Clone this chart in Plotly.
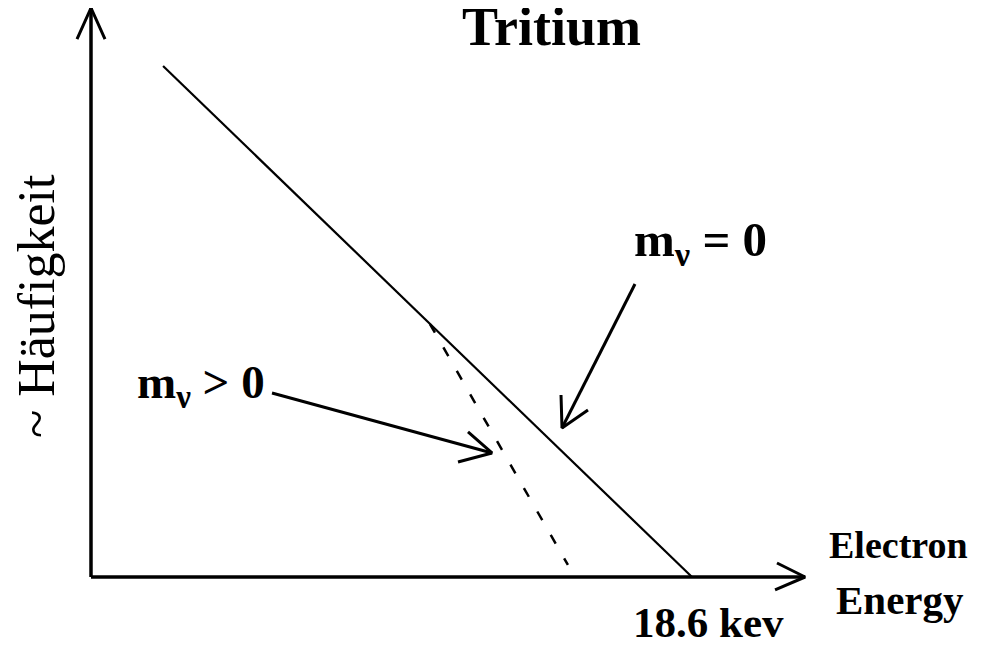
import plotly.graph_objects as go

# ---- data (schematic tritium beta spectrum end region) ----
energy_mv0 = [2.23, 18.6]          # keV, massless neutrino spectrum
counts_mv0 = [1.0, 0.0]            # relative abundance
energy_mv_pos = [10.49, 14.76]     # keV, massive neutrino spectrum (dashed)
counts_mv_pos = [0.495, 0.0235]
endpoint_label = "18.6 kev"

# axis extents (data units)
x_axis_end = 22.10
y_axis_end = 1.1135

# pointer arrows (data units): tail -> tip, plus head arms
ptr0_x = [16.836, 14.577]; ptr0_y = [0.5734, 0.2916]
ptr0_head_x = [14.546, 14.577, 15.381]; ptr0_head_y = [0.3562, 0.2916, 0.3268]
ptr1_x = [5.602, 12.410]; ptr1_y = [0.3601, 0.2427]
ptr1_head_x = [11.668, 12.410, 11.358]; ptr1_head_y = [0.2838, 0.2427, 0.2250]
yhead_x = [-0.433, 0.0, 0.433]; yhead_y = [1.0528, 1.1135, 1.0528]
xhead_x = [21.23, 22.10, 21.17]; xhead_y = [0.0274, 0.0, -0.0254]

# page has an 8px body margin: figure is drawn 8px in from the window edge
PAGE_W, PAGE_H, OFF = 985, 645, 8
W, H = PAGE_W - OFF, PAGE_H - OFF
KEV_PX = 601 / 18.6
Y_PX = 511.0
OX, OY = 91, 577   # origin in window pixels

fig = go.Figure()

def line(x, y, width, dash="solid"):
    fig.add_trace(go.Scatter(x=x, y=y, mode="lines", showlegend=False, hoverinfo="skip",
                             line=dict(color="black", width=width, dash=dash)))

# axes
line([0, 0], [0, y_axis_end], 3.5)
line([0, x_axis_end], [0, 0], 3.5)
line(yhead_x, yhead_y, 3)
line(xhead_x, xhead_y, 3)
# spectra
line(energy_mv0, counts_mv0, 2.2)
line(energy_mv_pos, counts_mv_pos, 2.5, dash="10px,17px")
# pointers
line(ptr0_x, ptr0_y, 3)
line(ptr0_head_x, ptr0_head_y, 3)
line(ptr1_x, ptr1_y, 3)
line(ptr1_head_x, ptr1_head_y, 3)

def P(px, py):
    return (px - OFF) / W, 1 - (py - OFF) / H

anns = []
def ann(text, px, py, size, angle=0, weight="bold"):
    x, y = P(px, py)
    f = dict(family="Liberation Serif", color="black", size=size, weight=weight)
    anns.append(dict(text=text, x=x, y=y, xref="paper", yref="paper", showarrow=False,
                     xanchor="center", yanchor="middle", font=f, textangle=angle))

ann("Tritium", 551, 27, 54)
ann("~ Häufigkeit", 36, 306, 52, angle=-90, weight="normal")
ann("m<sub>ν</sub> = 0", 700, 243, 49)
ann("m<sub>ν</sub> > 0", 201, 385, 47)
ann("Electron", 898, 545, 38)
ann("Energy", 900, 600, 41)
ann(endpoint_label, 708, 622, 43)

fig.update_layout(
    width=W, height=H, margin=dict(l=0, r=0, t=0, b=0),
    paper_bgcolor="white", plot_bgcolor="white",
    xaxis=dict(range=[(OFF - OX) / KEV_PX, (PAGE_W - OX) / KEV_PX], visible=False, fixedrange=True),
    yaxis=dict(range=[(OY - PAGE_H) / Y_PX, (OY - OFF) / Y_PX], visible=False, fixedrange=True),
    annotations=anns,
)
fig.write_html("out.html")
